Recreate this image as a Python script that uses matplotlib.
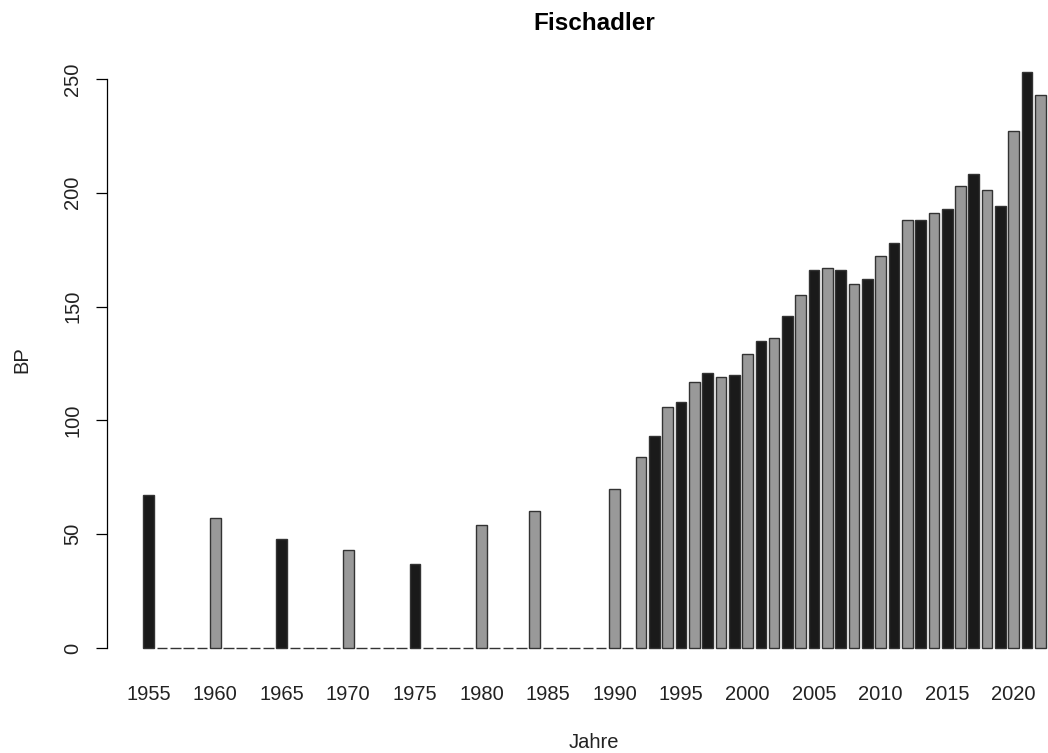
import numpy as np
import matplotlib
matplotlib.use('Agg')
import matplotlib.pyplot as plt

plt.rcParams['font.family'] = ['Liberation Sans', 'DejaVu Sans']

# Daten: Brutpaare Fischadler pro Jahr (0 = kein Wert)
years = list(range(1955, 2023))
bp = [67, 0, 0, 0, 0,
      57, 0, 0, 0, 0,
      48, 0, 0, 0, 0,
      43, 0, 0, 0, 0,
      37, 0, 0, 0, 0,
      54, 0, 0, 0, 60,
      0, 0, 0, 0, 0,
      70, 0, 84, 93, 106,
      108, 117, 121, 119, 120,
      129, 135, 136, 146, 155,
      166, 167, 166, 160, 162,
      172, 178, 188, 188, 191,
      193, 203, 208, 201, 194,
      227, 253, 243]
tick_years = [1955, 1960, 1965, 1970, 1975, 1980, 1985, 1990,
              1995, 2000, 2005, 2010, 2015, 2020]
y_ticks = [0, 50, 100, 150, 200, 250]

W, H = 1048, 753
fig = plt.figure(figsize=(W / 100, H / 100), dpi=100)

# Plotbereich wie in R (rechts ueber den Bildrand hinaus)
left_px, right_px = 107, 1082
top_px, bottom_px = 49, 671
ax = fig.add_axes([left_px / W, 1 - bottom_px / H,
                   (right_px - left_px) / W, (bottom_px - top_px) / H])

cols = ['#1a1a1a' if i % 2 == 0 else '#999999' for i in range(len(years))]
ax.bar(years, bp, width=0.8, color=cols, edgecolor='#333333',
       linewidth=1.0)

ext = 3.13
ax.set_xlim(years[0] - ext, years[-1] + ext)
ax.set_ylim(-10.12, 263.12)

for s in ['top', 'right', 'bottom']:
    ax.spines[s].set_visible(False)
ax.spines['left'].set_bounds(0, 250)
ax.spines['left'].set_linewidth(0.9)

ax.set_yticks(y_ticks)
ax.set_yticklabels([str(v) for v in y_ticks], rotation=90, va='center',
                   fontsize=14.5, color='#222222')
ax.tick_params(axis='y', length=8, width=0.9, pad=10)

ax.set_xticks(tick_years)
ax.set_xticklabels([str(y) for y in tick_years], fontsize=14.5,
                   color='#222222')
ax.tick_params(axis='x', length=0, pad=10)

fig.text(594 / W, 1 - 23 / H, 'Fischadler', ha='center', va='center',
         fontsize=17.5, fontweight='bold')
fig.text(594 / W, 1 - 742 / H, 'Jahre', ha='center', va='center',
         fontsize=14.5, color='#222222')
fig.text(22 / W, 1 - 360 / H, 'BP', ha='center', va='center',
         rotation=90, fontsize=14.5, color='#222222')

fig.savefig('out.png', dpi=100, facecolor='white')
